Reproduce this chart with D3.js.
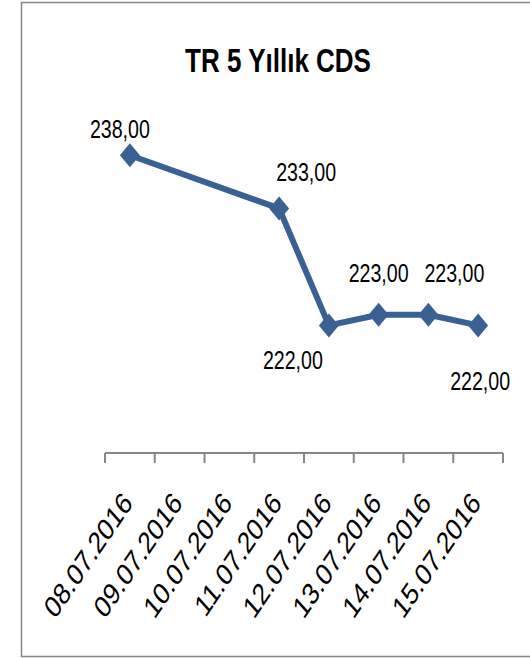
<!DOCTYPE html>
<html>
<head>
<meta charset="utf-8">
<script src="https://cdn.jsdelivr.net/npm/d3@7"></script>
<style>
  body { margin: 0; background: #fff; }
  svg { display: block; }
  text { font-family: "Liberation Sans", Arial, sans-serif; fill: #000; }
</style>
</head>
<body>
<svg id="chart" width="530" height="658"></svg>
<script>
// TR 5 year CDS, daily close
var dates = ["08.07.2016", "09.07.2016", "10.07.2016", "11.07.2016",
             "12.07.2016", "13.07.2016", "14.07.2016", "15.07.2016"];
var cds = [238, null, null, 233, 222, 223, 223, 222];

// data labels were dragged by hand in the original, so keep their offsets apart
var labelOffsets = [[-10, -17], null, null, [27, -27], [-36, 44], [0, -33], [26, -33], [2, 65]];

var svg = d3.select("#chart");
var lineColor = "#3a6194";
var axisColor = "#868686";
// the source picture is stretched vertically, text follows that
var stretch = 1.28;

var tr = d3.formatLocale({decimal: ",", thousands: ".", grouping: [3], currency: ["", " TL"]});
var fmt = tr.format(",.2f");

function at(px, py) {
    return "translate(" + px + "," + py + ") scale(1," + stretch + ")";
}

// outer chart border (right side runs off the picture)
svg.append("rect")
    .attr("x", 21.5).attr("y", 2.5)
    .attr("width", 540).attr("height", 654)
    .attr("fill", "none")
    .attr("stroke", axisColor)
    .attr("stroke-width", 1.5);

svg.append("text")
    .attr("transform", at(278, 72))
    .attr("text-anchor", "middle")
    .style("font-size", "26px")
    .style("font-weight", "bold")
    .text("TR 5 Yıllık CDS");

var x = d3.scaleBand().domain(dates).range([105, 503]);
var y = d3.scaleLinear().domain([210, 240]).range([453, 134]);

// category axis, ticks between categories
var axisY = y(210);
var tickX = dates.map(d => x(d)).concat([x.range()[1]]);

svg.append("line")
    .attr("x1", tickX[0]).attr("x2", tickX[tickX.length - 1])
    .attr("y1", axisY).attr("y2", axisY)
    .attr("stroke", axisColor).attr("stroke-width", 2);

svg.selectAll(".tick")
    .data(tickX)
  .enter().append("line")
    .attr("class", "tick")
    .attr("x1", d => d).attr("x2", d => d)
    .attr("y1", axisY).attr("y2", axisY + 10)
    .attr("stroke", axisColor).attr("stroke-width", 2);

svg.selectAll(".xlabel")
    .data(dates)
  .enter().append("text")
    .attr("class", "xlabel")
    .attr("text-anchor", "end")
    .attr("transform", d => at(x(d) + x.bandwidth() / 2 + 4, axisY + 51) + " rotate(-49)")
    .style("font-size", "24px")
    .text(d => d);

// points with a value; the line skips the empty weekend days
var pts = dates.map((d, i) => ({date: d, value: cds[i], off: labelOffsets[i]}))
               .filter(p => p.value != null);

var line = d3.line()
    .x(p => x(p.date) + x.bandwidth() / 2)
    .y(p => y(p.value));

svg.append("path")
    .datum(pts)
    .attr("d", line)
    .attr("fill", "none")
    .attr("stroke", lineColor)
    .attr("stroke-width", 6)
    .attr("stroke-linejoin", "round");

svg.selectAll(".marker")
    .data(pts)
  .enter().append("path")
    .attr("class", "marker")
    .attr("transform", p => "translate(" + (x(p.date) + x.bandwidth() / 2) + "," + y(p.value) + ")")
    .attr("d", "M0,-12L10,0L0,12L-10,0Z")
    .attr("fill", lineColor);

svg.selectAll(".vlabel")
    .data(pts)
  .enter().append("text")
    .attr("class", "vlabel")
    .attr("text-anchor", "middle")
    .attr("transform", p => at(x(p.date) + x.bandwidth() / 2 + p.off[0], y(p.value) + p.off[1]))
    .style("font-size", "19.6px")
    .text(p => fmt(p.value));
</script>
</body>
</html>
